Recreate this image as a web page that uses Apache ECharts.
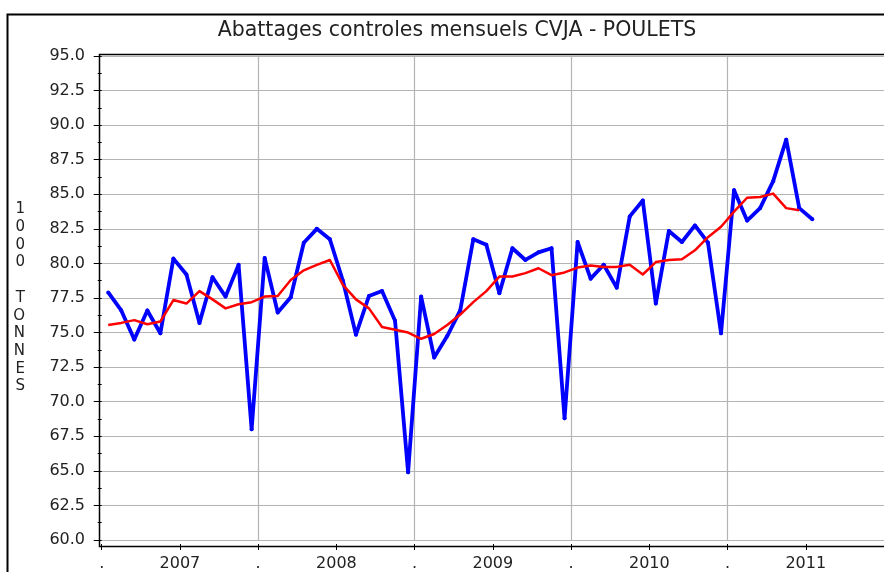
<!DOCTYPE html>
<html>
<head>
<meta charset="utf-8">
<title>Abattages controles mensuels CVJA - POULETS</title>
<script src="https://cdn.jsdelivr.net/npm/echarts@6/dist/echarts.min.js"></script>
<style>
  html, body { margin: 0; padding: 0; background: #fff; }
  #chart1 { width: 884px; height: 572px; }
</style>
</head>
<body>
<div id="chart1"></div>
<script type="text/javascript">
// données mensuelles, janvier 2007 -> juillet 2011 (1000 tonnes)
var startYear = 2007;
var years = ['2007', '2008', '2009', '2010', '2011'];
var monthly = [
    77.9, 76.6, 74.5, 76.6, 74.95, 80.35, 79.2, 75.7, 79.0, 77.6, 79.9, 68.0,
    80.4, 76.45, 77.55, 81.5, 82.5, 81.75, 78.75, 74.85, 77.65, 78.0, 75.85, 64.9,
    77.6, 73.2, 74.75, 76.6, 81.75, 81.35, 77.85, 81.1, 80.25, 80.8, 81.1, 68.8,
    81.55, 78.9, 79.9, 78.25, 83.4, 84.55, 77.1, 82.35, 81.55, 82.75, 81.5, 74.95,
    85.3, 83.1, 84.0, 85.95, 88.95, 84.0, 83.2
];
// moyenne mobile (rouge)
var trend = [
    75.55, 75.7, 75.9, 75.6, 75.8, 77.35, 77.1, 78.0, 77.4, 76.75, 77.05, 77.2,
    77.6, 77.65, 78.8, 79.5, 79.9, 80.25, 78.45, 77.4, 76.75, 75.4, 75.2, 75.0,
    74.55, 74.9, 75.55, 76.3, 77.2, 78.0, 79.05, 79.05, 79.3, 79.65, 79.15, 79.35,
    79.7, 79.85, 79.75, 79.75, 79.9, 79.2, 80.1, 80.25, 80.3, 80.95, 81.9, 82.65,
    83.75, 84.75, 84.8, 85.05, 84.0, 83.85
];
var yTicks = [60, 62.5, 65, 67.5, 70, 72.5, 75, 77.5, 80, 82.5, 85, 87.5, 90, 92.5, 95];

// x = mois depuis janvier 2007, point au milieu du mois
function toPoints(arr) {
    return arr.map(function (v, i) { return [i + 0.5, v]; });
}
var xTicks = [];
for (var m = 0; m < years.length * 12; m += 6) xTicks.push(m);
var yearLines = [12, 24, 36, 48];

var font = '"DejaVu Sans", sans-serif';
var myChart = echarts.init(document.getElementById('chart1'));
myChart.setOption({
    animation: false,
    backgroundColor: '#fff',
    title: {
        text: 'Abattages controles mensuels CVJA - POULETS',
        left: 452,
        top: 15,
        textAlign: 'center',
        textStyle: { fontFamily: font, fontSize: 20.5, fontWeight: 'normal', color: '#222' }
    },
    graphic: [
        { type: 'rect', left: 5, top: 12, shape: { width: 900, height: 580 },
          style: { fill: null, stroke: '#000', lineWidth: 2 }, silent: true },
        { type: 'rect', left: 97, top: 52, shape: { width: 800, height: 492 },
          style: { fill: null, stroke: '#000', lineWidth: 1.5 }, silent: true, z: 10 }
    ],
    grid: { left: 97, right: 0, top: 56, bottom: 32, containLabel: false, outerBoundsMode: 'none' },
    xAxis: [{
        type: 'value',
        min: -0.36,
        max: 60,
        offset: 4,
        axisLine: { show: false },
        axisTick: { show: true, length: 6, customValues: xTicks, lineStyle: { color: '#000' } },
        axisLabel: {
            customValues: xTicks,
            margin: 12,
            fontFamily: font, fontSize: 16, color: '#222',
            formatter: function (v) {
                return v % 12 === 0 ? '.' : String(startYear + Math.floor(v / 12));
            }
        },
        splitLine: { show: false }
    }, {
        type: 'value',
        min: -0.36,
        max: 60,
        position: 'bottom',
        axisLine: { show: false },
        axisTick: { show: false, customValues: yearLines },
        axisLabel: { show: false },
        splitLine: { show: true, lineStyle: { color: '#b4b4b4', width: 1.2 } }
    }],
    yAxis: {
        type: 'value',
        min: 60,
        max: 95,
        interval: 2.5,
        name: '1\n0\n0\n0\n\nT\nO\nN\nN\nE\nS',
        nameLocation: 'middle',
        nameRotate: 0,
        nameGap: 72,
        nameTextStyle: { fontFamily: font, fontSize: 15, color: '#222', lineHeight: 17.7, padding: [0, 0, 8, 0] },
        axisLine: { show: false },
        axisTick: { show: true, length: 8, lineStyle: { color: '#000' } },
        minorTick: { show: true, splitNumber: 2, length: 4, lineStyle: { color: '#000' } },
        axisLabel: {
            margin: 12,
            fontFamily: font, fontSize: 16, color: '#222',
            customValues: yTicks,
            formatter: function (v) { return v.toFixed(1); }
        },
        splitLine: { show: true, lineStyle: { color: '#b4b4b4', width: 1.2 } }
    },
    series: [{
        name: 'mensuel',
        type: 'line',
        data: toPoints(monthly),
        symbol: 'circle',
        symbolSize: 4,
        itemStyle: { color: '#0000ff' },
        lineStyle: { color: '#0000ff', width: 3.8, join: 'round' },
        z: 3
    }, {
        name: 'tendance',
        type: 'line',
        data: toPoints(trend),
        showSymbol: false,
        lineStyle: { color: '#ff0000', width: 2.5, join: 'round' },
        z: 4
    }]
});
</script>
</body>
</html>
